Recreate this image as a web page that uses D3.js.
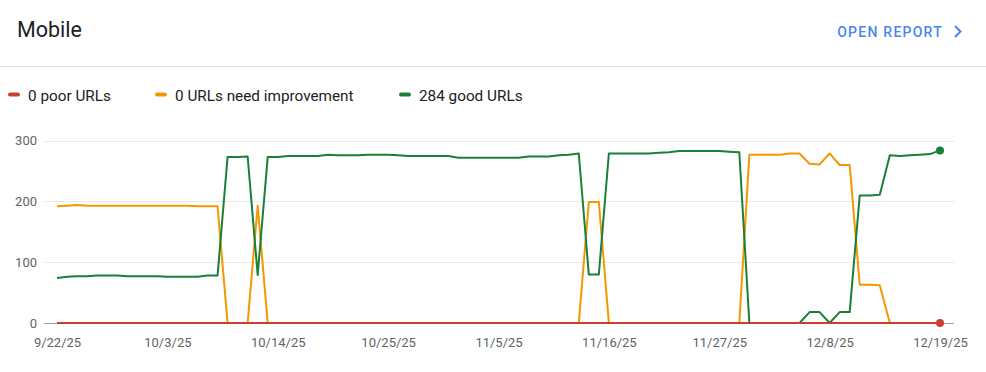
<!DOCTYPE html>
<html>
<head>
<meta charset="utf-8">
<script src="https://cdn.jsdelivr.net/npm/d3@7"></script>
<style>
  html, body { margin: 0; padding: 0; background: #fff; }
  body { width: 986px; height: 372px; overflow: hidden; font-family: Roboto, "Noto Sans", sans-serif; }
</style>
</head>
<body>
<div id="chart"></div>
<script>
// daily values, 9/22/25 .. 12/19/25
const startDate = new Date(2025, 8, 22);
const goodUrls = [
  74, 76, 77, 77, 78, 78, 78, 77, 77, 77, 77, 76, 76, 76, 76, 78, 78,
  273, 273, 274, 79,
  273, 273, 275, 275, 275, 275, 277, 276, 276, 276, 277, 277, 277, 276, 275, 275,
  275, 275, 275, 272, 272, 272, 272, 272, 272, 272, 274, 274, 274, 276, 277, 279,
  80, 80,
  279, 279, 279, 279, 279, 280, 281, 283, 283, 283, 283, 283, 282, 281,
  0, 0, 0, 0, 0, 0, 18, 18, 0, 18, 18,
  210, 210, 211, 276, 275, 276, 277, 278, 284
];
const needImprovementUrls = [
  192, 193, 194, 193, 193, 193, 193, 193, 193, 193, 193, 193, 193, 193, 192, 192, 192,
  0, 0, 0, 193,
  0, 0, 0, 0, 0, 0, 0, 0, 0, 0, 0, 0, 0, 0, 0, 0,
  0, 0, 0, 0, 0, 0, 0, 0, 0, 0, 0, 0, 0, 0, 0, 0,
  199, 199,
  0, 0, 0, 0, 0, 0, 0, 0, 0, 0, 0, 0, 0, 0,
  277, 277, 277, 277, 279, 279, 262, 261, 279, 260, 260,
  63, 63, 62, 0, 0, 0, 0, 0, 0
];
const poorUrls = goodUrls.map(() => 0);
const yTicks = [0, 100, 200, 300];
const xTickDates = ["2025-09-22", "2025-10-03", "2025-10-14", "2025-10-25", "2025-11-05",
  "2025-11-16", "2025-11-27", "2025-12-08", "2025-12-19"];

const series = [
  { key: "needs", label: "URLs need improvement", color: "#f29900", values: needImprovementUrls },
  { key: "good", label: "good URLs", color: "#188038", values: goodUrls },
  { key: "poor", label: "poor URLs", color: "#c9402f", values: poorUrls },
];
const legendOrder = ["poor", "needs", "good"];

const W = 986, H = 372;
const svg = d3.select("#chart").append("svg").attr("width", W).attr("height", H);

// header
svg.append("text").attr("x", 17).attr("y", 37)
  .attr("font-size", 21.5).attr("fill", "#202124").text("Mobile");
svg.append("text").attr("x", 943).attr("y", 37).attr("text-anchor", "end")
  .attr("font-size", 14).attr("font-weight", 500).attr("letter-spacing", 1.25)
  .attr("fill", "#4a86f0").text("OPEN REPORT");
svg.append("path").attr("d", "M955,26 L960.5,31.5 L955,37")
  .attr("fill", "none").attr("stroke", "#4a86f0").attr("stroke-width", 2);
svg.append("line").attr("x1", 0).attr("x2", W).attr("y1", 66.5).attr("y2", 66.5)
  .attr("stroke", "#e0e0e0");

// legend
const legendX = { poor: 8, needs: 155, good: 399 };
legendOrder.forEach((k) => {
  const s = series.find((d) => d.key === k);
  const last = s.values[s.values.length - 1];
  const g = svg.append("g").attr("transform", `translate(${legendX[k]},0)`);
  g.append("rect").attr("x", 0).attr("y", 92.5).attr("width", 12).attr("height", 4)
    .attr("rx", 2).attr("fill", s.color);
  g.append("text").attr("x", 20).attr("y", 100.5).attr("font-size", 15.3)
    .attr("fill", "#202124").text(`${last} ${s.label}`);
});

// scales
const dates = goodUrls.map((_, i) => d3.timeDay.offset(startDate, i));
const x = d3.scaleTime().domain([dates[0], dates[dates.length - 1]]).range([57, 940]);
const y = d3.scaleLinear().domain([0, 300]).range([323, 140.7]);

// grid
svg.append("g").selectAll("line").data(yTicks.filter((t) => t > 0)).join("line")
  .attr("x1", 44).attr("x2", 954)
  .attr("y1", (d) => Math.round(y(d)) + 0.5).attr("y2", (d) => Math.round(y(d)) + 0.5)
  .attr("stroke", "#e8e8e8");
svg.append("line").attr("x1", 44).attr("x2", 954).attr("y1", y(0) + 0.5).attr("y2", y(0) + 0.5)
  .attr("stroke", "#9aa0a6");

// y axis
const yAxis = svg.append("g").attr("transform", "translate(37,0)")
  .call(d3.axisLeft(y).tickValues(yTicks).tickSize(0).tickPadding(0));
yAxis.select(".domain").remove();
yAxis.selectAll("text").attr("font-size", 13).attr("fill", "#5f6368")
  .attr("font-family", "Roboto, sans-serif");

// x axis
const fmt = (d) => `${d.getMonth() + 1}/${d.getDate()}/${String(d.getFullYear()).slice(2)}`;
const xAxis = svg.append("g").attr("transform", "translate(0,338)")
  .call(d3.axisBottom(x).tickValues(xTickDates.map((s) => d3.timeParse("%Y-%m-%d")(s)))
    .tickFormat(fmt).tickSize(0).tickPadding(0));
xAxis.select(".domain").remove();
xAxis.selectAll("text").attr("font-size", 13).attr("fill", "#5f6368")
  .attr("font-family", "Roboto, sans-serif");

// lines
const line = d3.line().x((d, i) => x(dates[i])).y((d) => y(d));
series.forEach((s) => {
  svg.append("path").datum(s.values).attr("d", line)
    .attr("fill", "none").attr("stroke", s.color).attr("stroke-width", 2)
    .attr("stroke-linejoin", "round");
});
series.forEach((s) => {
  if (s.key === "needs") return;
  const n = s.values.length - 1;
  svg.append("circle").attr("cx", x(dates[n])).attr("cy", y(s.values[n]))
    .attr("r", 4).attr("fill", s.color);
});
</script>
</body>
</html>
